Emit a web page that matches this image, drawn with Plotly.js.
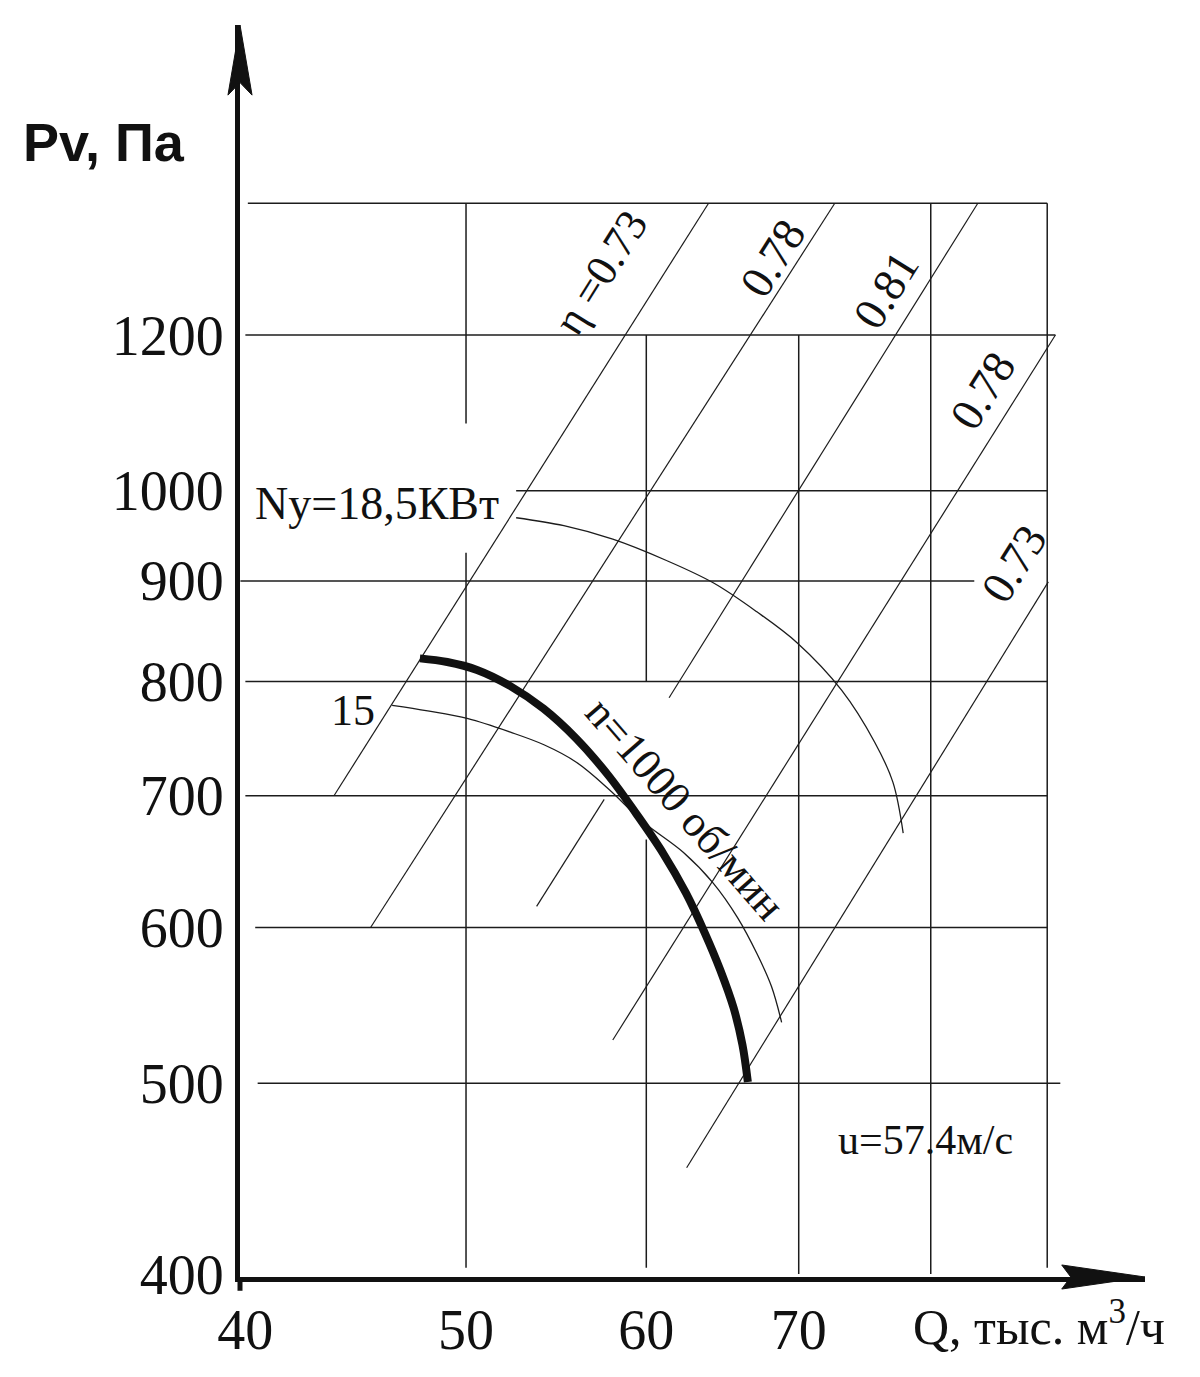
<!DOCTYPE html>
<html><head><meta charset="utf-8">
<script src="https://cdn.plot.ly/plotly-3.0.1.min.js"></script>
<style>html,body{margin:0;padding:0;background:#fff}</style>
</head><body><div id="chart" style="width:1200px;height:1377px"></div>
<script>
// ---- Axis ticks ----
const xTickVals = [40, 50, 60, 70];
const xTickText = ['40', '50', '60', '70'];
const yTickVals = [400, 500, 600, 700, 800, 900, 1000, 1200];
const yTickText = ['400', '500', '600', '700', '800', '900', '1000', '1200'];

// ---- Horizontal grid segments (Pv level, Q from, Q to) ----
const hGridPv    = [1400, 1200, 1000, 900, 800, 700, 600, 500];
const hGridQFrom = [40.1, 40, 52.6, 39.8, 40, 40, 40.4, 40.5];
const hGridQTo   = [90, 90.75, 90, 83.6, 90, 90, 90, 91.2];

// ---- Vertical grid segments (Q level, Pv from, Pv to) ----
const vGridQ      = [50, 50, 60, 60, 70, 80, 90];
const vGridPvFrom = [1400, 930, 1200, 665, 1200, 1400, 1400];
const vGridPvTo   = [1082, 403, 800, 403, 400, 400, 403];

// ---- Efficiency rays (η lines) ----
const etaQFrom  = [63.9, 72.6, 83.9, 57.5, 90.75, 90.1];
const etaPvFrom = [1400, 1400, 1400, 697, 1200, 899];
const etaQTo    = [43.75, 45.4, 61.4, 53.7, 58.0, 62.5];
const etaPvTo   = [700, 600, 785, 615, 526, 453];

// ---- Fan curve n = 1000 rpm ----
const fanQ  = [47.72, 49.06, 50.56, 52.27, 54.08, 55.92, 57.81, 59.40, 61.02, 62.46, 63.66, 64.66, 65.54, 66.13, 66.49];
const fanPv = [822, 818.5, 811, 796, 775, 748, 715.6, 685.3, 654.6, 624.6, 596.1, 570.9, 546.1, 522.9, 500.8];

// ---- Power curve 15 kW ----
const p15Q  = [46.4, 48.1, 50.1, 52.3, 54.1, 55.9, 57.8, 59.8, 62.3, 64.2, 65.8, 67.1, 68.1, 68.8];
const p15Pv = [778, 773, 766, 754, 743, 728, 705, 679, 655, 632, 607, 582, 560, 537];

// ---- Power curve Ny = 18.5 kW ----
const p185Q  = [52.6, 55.2, 58.0, 61.2, 64.2, 67.1, 69.9, 73.1, 75.6, 77.0, 77.8];
const p185Pv = [969, 960, 945, 922, 898, 868, 837, 792, 745, 711, 670];

// ---- helpers ----
function segs(x0, x1, y0, y1) {
  const xs = [], ys = [];
  for (let i = 0; i < x0.length; i++) { xs.push(x0[i], x1[i], null); ys.push(y0[i], y1[i], null); }
  return {xs, ys};
}
function lineTrace(xs, ys, w, color, shape) {
  return {type: 'scatter', mode: 'lines', x: xs, y: ys, connectgaps: false,
          line: {color: color || '#1c1c1c', width: w, shape: shape || 'linear', smoothing: 1},
          hoverinfo: 'skip', showlegend: false};
}
const L = Math.log10;

const h = segs(hGridQFrom, hGridQTo, hGridPv, hGridPv);
const v = segs(vGridQ, vGridQ, vGridPvFrom, vGridPvTo);
const e = segs(etaQFrom, etaQTo, etaPvFrom, etaPvTo);

const traces = [
  lineTrace(h.xs, h.ys, 1.5),
  lineTrace(v.xs, v.ys, 1.5),
  lineTrace(e.xs, e.ys, 1.2),
  lineTrace(p185Q, p185Pv, 1.3, '#1c1c1c', 'spline'),
  lineTrace(p15Q, p15Pv, 1.3, '#1c1c1c', 'spline'),
  lineTrace(fanQ, fanPv, 8, '#111', 'spline')
];

const SERIF = '"Liberation Serif", "Times New Roman", serif';
function note(q, pv, text, size, angle, anchor) {
  return {x: L(q), y: L(pv), xref: 'x', yref: 'y', text: text, showarrow: false,
          textangle: angle || 0, xanchor: anchor || 'center', yanchor: 'middle',
          font: {family: SERIF, size: size, color: '#111'}};
}

const annotations = [
  note(40.3, 985, 'Ny=18,5КВт', 46, 0, 'left'),
  note(44.6, 773, '15', 44),
  note(62.4, 690, 'n=1000 об/мин', 44, 49),
  note(79.6, 468, 'u=57.4м/с', 42),
  note(57.3, 1291, 'η =0.73', 44, -58),
  note(68.2, 1314, '0.78', 46, -58),
  note(76.5, 1265, '0.81', 46, -58),
  note(84.3, 1125, '0.78', 46, -58),
  note(87.0, 919, '0.73', 46, -58),
  {x: -0.150, y: 0.9065, xref: 'paper', yref: 'paper', text: '<b>Pv, Па</b>', showarrow: false,
   xanchor: 'center', yanchor: 'middle',
   font: {family: '"Liberation Sans", Arial, sans-serif', size: 54, color: '#111'}},
  {x: 0.883, y: -0.037, xref: 'paper', yref: 'paper', text: 'Q, тыс. м<sup>3</sup>/ч', showarrow: false,
   xanchor: 'center', yanchor: 'middle', font: {family: SERIF, size: 50, color: '#111'}}
];

const shapes = [
  // y-axis arrowhead
  {type: 'path', xref: 'paper', yref: 'paper',
   path: 'M 0,1.0 L 0.0133,0.944 L 0,0.954 L -0.0133,0.944 Z',
   fillcolor: '#111', line: {color: '#111', width: 1}},
  // x-axis arrowhead
  {type: 'path', xref: 'paper', yref: 'paper',
   path: 'M 1.0,0 L 0.908,0.0096 L 0.918,0 L 0.908,-0.0096 Z',
   fillcolor: '#111', line: {color: '#111', width: 1}},
  // y-axis tail below the x-axis
  {type: 'line', xref: 'paper', yref: 'paper', x0: 0, x1: 0, y0: 0, y1: -0.011,
   line: {color: '#111', width: 5}}
];

const layout = {
  width: 1200, height: 1377,
  margin: {l: 240, r: 55, t: 25, b: 100, pad: 0},
  paper_bgcolor: '#ffffff', plot_bgcolor: '#ffffff',
  showlegend: false,
  font: {family: SERIF, color: '#111'},
  xaxis: {type: 'log', range: [1.5997, 1.99719], showgrid: false, zeroline: false,
          showline: true, linewidth: 5, linecolor: '#111', ticks: '',
          tickmode: 'array', tickvals: xTickVals, ticktext: xTickText,
          tickfont: {family: SERIF, size: 56, color: '#111'}, ticklabelstandoff: 0},
  yaxis: {type: 'log', range: [2.60058, 3.23667], showgrid: false, zeroline: false,
          showline: true, linewidth: 5, linecolor: '#111', ticks: '',
          tickmode: 'array', tickvals: yTickVals, ticktext: yTickText,
          tickfont: {family: SERIF, size: 56, color: '#111'}, ticklabelstandoff: 0},
  annotations: annotations,
  shapes: shapes
};

Plotly.newPlot('chart', traces, layout, {staticPlot: true, displayModeBar: false});
</script></body></html>
